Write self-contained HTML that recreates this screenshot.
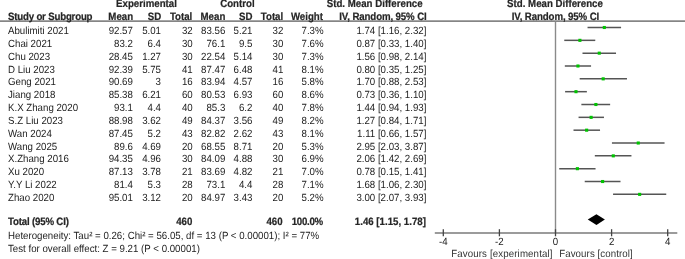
<!DOCTYPE html>
<html><head><meta charset="utf-8"><style>
html,body{margin:0;padding:0;background:#fff;}
body{width:685px;height:259px;position:relative;overflow:hidden;font-family:"Liberation Sans",sans-serif;color:#000;}
.t{position:absolute;white-space:nowrap;text-rendering:geometricPrecision;transform-origin:0 7px;}
.r{font-size:9.7px;line-height:9.7px;color:#222;transform:scaleY(1.07);}
.b{font-size:9.7px;line-height:9.7px;font-weight:bold;color:#262626;-webkit-text-stroke:0.2px #262626;letter-spacing:0.0px;transform:scaleY(1.1);}
svg{position:absolute;left:0;top:0;}
#tx{position:absolute;left:0;top:0;width:685px;height:259px;will-change:transform;}
</style></head><body>
<svg width="685" height="259" viewBox="0 0 685 259"><line x1="587.54" y1="27.50" x2="621.08" y2="27.50" stroke="#555" stroke-width="1.5"/><rect x="602.76" y="25.95" width="3.1" height="3.1" fill="#00c400"/><line x1="564.26" y1="40.34" x2="595.27" y2="40.34" stroke="#555" stroke-width="1.5"/><rect x="578.35" y="38.79" width="3.1" height="3.1" fill="#00c400"/><line x1="582.49" y1="53.17" x2="616.03" y2="53.17" stroke="#555" stroke-width="1.5"/><rect x="597.71" y="51.62" width="3.1" height="3.1" fill="#00c400"/><line x1="564.82" y1="66.00" x2="591.06" y2="66.00" stroke="#555" stroke-width="1.5"/><rect x="576.39" y="64.45" width="3.1" height="3.1" fill="#00c400"/><line x1="579.68" y1="78.84" x2="626.97" y2="78.84" stroke="#555" stroke-width="1.5"/><rect x="601.63" y="77.29" width="3.1" height="3.1" fill="#00c400"/><line x1="565.10" y1="91.68" x2="586.86" y2="91.68" stroke="#555" stroke-width="1.5"/><rect x="574.43" y="90.13" width="3.1" height="3.1" fill="#00c400"/><line x1="581.37" y1="104.51" x2="610.14" y2="104.51" stroke="#555" stroke-width="1.5"/><rect x="594.34" y="102.96" width="3.1" height="3.1" fill="#00c400"/><line x1="578.56" y1="117.34" x2="603.97" y2="117.34" stroke="#555" stroke-width="1.5"/><rect x="589.57" y="115.80" width="3.1" height="3.1" fill="#00c400"/><line x1="573.51" y1="130.18" x2="600.04" y2="130.18" stroke="#555" stroke-width="1.5"/><rect x="585.09" y="128.63" width="3.1" height="3.1" fill="#00c400"/><line x1="611.94" y1="143.02" x2="664.55" y2="143.02" stroke="#555" stroke-width="1.5"/><rect x="636.70" y="141.47" width="3.1" height="3.1" fill="#00c400"/><line x1="594.83" y1="155.85" x2="631.45" y2="155.85" stroke="#555" stroke-width="1.5"/><rect x="611.73" y="154.30" width="3.1" height="3.1" fill="#00c400"/><line x1="559.21" y1="168.69" x2="595.55" y2="168.69" stroke="#555" stroke-width="1.5"/><rect x="575.83" y="167.13" width="3.1" height="3.1" fill="#00c400"/><line x1="584.73" y1="181.52" x2="620.51" y2="181.52" stroke="#555" stroke-width="1.5"/><rect x="601.07" y="179.97" width="3.1" height="3.1" fill="#00c400"/><line x1="613.06" y1="194.36" x2="666.24" y2="194.36" stroke="#555" stroke-width="1.5"/><rect x="638.10" y="192.81" width="3.1" height="3.1" fill="#00c400"/><polygon points="587.76,219.6 596.45,214.2 604.87,219.6 596.45,225.0" fill="#000"/><rect x="0" y="20" width="685" height="1" fill="#a6a6a6"/><rect x="0" y="21" width="685" height="1" fill="#858585"/><line x1="555.5" y1="22" x2="555.5" y2="233" stroke="#8a8a8a" stroke-width="1.4"/><line x1="434.8" y1="233.0" x2="677.3" y2="233.0" stroke="#7a7a7a" stroke-width="1.6"/><line x1="443.30" y1="229.2" x2="443.30" y2="236.3" stroke="#444" stroke-width="1.3"/><line x1="499.40" y1="229.2" x2="499.40" y2="236.3" stroke="#444" stroke-width="1.3"/><line x1="555.50" y1="229.2" x2="555.50" y2="236.3" stroke="#444" stroke-width="1.3"/><line x1="611.60" y1="229.2" x2="611.60" y2="236.3" stroke="#444" stroke-width="1.3"/><line x1="667.70" y1="229.2" x2="667.70" y2="236.3" stroke="#444" stroke-width="1.3"/></svg>
<div id="tx">
<div class="t b" style="top:0px;left:46.50px;width:200px;text-align:center;">Experimental</div>
<div class="t b" style="top:0px;left:137.40px;width:200px;text-align:center;">Control</div>
<div class="t b" style="top:0px;left:274.70px;width:200px;text-align:center;">Std. Mean Difference</div>
<div class="t b" style="top:0px;left:455.00px;width:200px;text-align:center;">Std. Mean Difference</div>
<div class="t b" style="top:13px;letter-spacing:-0.2px;left:8.00px;">Study or Subgroup</div>
<div class="t b" style="top:13px;right:551.90px;text-align:right;">Mean</div>
<div class="t b" style="top:13px;right:523.70px;text-align:right;">SD</div>
<div class="t b" style="top:13px;right:492.70px;text-align:right;">Total</div>
<div class="t b" style="top:13px;right:459.70px;text-align:right;">Mean</div>
<div class="t b" style="top:13px;right:432.60px;text-align:right;">SD</div>
<div class="t b" style="top:13px;right:401.80px;text-align:right;">Total</div>
<div class="t b" style="top:13px;right:362.00px;text-align:right;">Weight</div>
<div class="t b" style="top:13px;letter-spacing:-0.12px;left:282.95px;width:200px;text-align:center;">IV, Random, 95% CI</div>
<div class="t b" style="top:13px;letter-spacing:-0.12px;left:455.40px;width:200px;text-align:center;">IV, Random, 95% CI</div>
<div class="t r" style="top:27px;left:8.00px;">Abulimiti 2021</div>
<div class="t r" style="top:27px;right:552.10px;text-align:right;">92.57</div>
<div class="t r" style="top:27px;right:524.00px;text-align:right;">5.01</div>
<div class="t r" style="top:27px;right:492.30px;text-align:right;">32</div>
<div class="t r" style="top:27px;right:459.70px;text-align:right;">83.56</div>
<div class="t r" style="top:27px;right:432.60px;text-align:right;">5.21</div>
<div class="t r" style="top:27px;right:401.70px;text-align:right;">32</div>
<div class="t r" style="top:27px;right:361.40px;text-align:right;">7.3%</div>
<div class="t r" style="top:27px;right:258.60px;text-align:right;">1.74 [1.16, 2.32]</div>
<div class="t r" style="top:40px;left:8.00px;">Chai 2021</div>
<div class="t r" style="top:40px;right:552.10px;text-align:right;">83.2</div>
<div class="t r" style="top:40px;right:524.00px;text-align:right;">6.4</div>
<div class="t r" style="top:40px;right:492.30px;text-align:right;">30</div>
<div class="t r" style="top:40px;right:459.70px;text-align:right;">76.1</div>
<div class="t r" style="top:40px;right:432.60px;text-align:right;">9.5</div>
<div class="t r" style="top:40px;right:401.70px;text-align:right;">30</div>
<div class="t r" style="top:40px;right:361.40px;text-align:right;">7.6%</div>
<div class="t r" style="top:40px;right:258.60px;text-align:right;">0.87 [0.33, 1.40]</div>
<div class="t r" style="top:53px;left:8.00px;">Chu 2023</div>
<div class="t r" style="top:53px;right:552.10px;text-align:right;">28.45</div>
<div class="t r" style="top:53px;right:524.00px;text-align:right;">1.27</div>
<div class="t r" style="top:53px;right:492.30px;text-align:right;">30</div>
<div class="t r" style="top:53px;right:459.70px;text-align:right;">22.54</div>
<div class="t r" style="top:53px;right:432.60px;text-align:right;">5.14</div>
<div class="t r" style="top:53px;right:401.70px;text-align:right;">30</div>
<div class="t r" style="top:53px;right:361.40px;text-align:right;">7.3%</div>
<div class="t r" style="top:53px;right:258.60px;text-align:right;">1.56 [0.98, 2.14]</div>
<div class="t r" style="top:66px;left:8.00px;">D Liu 2023</div>
<div class="t r" style="top:66px;right:552.10px;text-align:right;">92.39</div>
<div class="t r" style="top:66px;right:524.00px;text-align:right;">5.75</div>
<div class="t r" style="top:66px;right:492.30px;text-align:right;">41</div>
<div class="t r" style="top:66px;right:459.70px;text-align:right;">87.47</div>
<div class="t r" style="top:66px;right:432.60px;text-align:right;">6.48</div>
<div class="t r" style="top:66px;right:401.70px;text-align:right;">41</div>
<div class="t r" style="top:66px;right:361.40px;text-align:right;">8.1%</div>
<div class="t r" style="top:66px;right:258.60px;text-align:right;">0.80 [0.35, 1.25]</div>
<div class="t r" style="top:78px;left:8.00px;">Geng 2021</div>
<div class="t r" style="top:78px;right:552.10px;text-align:right;">90.69</div>
<div class="t r" style="top:78px;right:524.00px;text-align:right;">3</div>
<div class="t r" style="top:78px;right:492.30px;text-align:right;">16</div>
<div class="t r" style="top:78px;right:459.70px;text-align:right;">83.94</div>
<div class="t r" style="top:78px;right:432.60px;text-align:right;">4.57</div>
<div class="t r" style="top:78px;right:401.70px;text-align:right;">16</div>
<div class="t r" style="top:78px;right:361.40px;text-align:right;">5.8%</div>
<div class="t r" style="top:78px;right:258.60px;text-align:right;">1.70 [0.88, 2.53]</div>
<div class="t r" style="top:91px;left:8.00px;">Jiang 2018</div>
<div class="t r" style="top:91px;right:552.10px;text-align:right;">85.38</div>
<div class="t r" style="top:91px;right:524.00px;text-align:right;">6.21</div>
<div class="t r" style="top:91px;right:492.30px;text-align:right;">60</div>
<div class="t r" style="top:91px;right:459.70px;text-align:right;">80.53</div>
<div class="t r" style="top:91px;right:432.60px;text-align:right;">6.93</div>
<div class="t r" style="top:91px;right:401.70px;text-align:right;">60</div>
<div class="t r" style="top:91px;right:361.40px;text-align:right;">8.6%</div>
<div class="t r" style="top:91px;right:258.60px;text-align:right;">0.73 [0.36, 1.10]</div>
<div class="t r" style="top:104px;left:8.00px;">K.X Zhang 2020</div>
<div class="t r" style="top:104px;right:552.10px;text-align:right;">93.1</div>
<div class="t r" style="top:104px;right:524.00px;text-align:right;">4.4</div>
<div class="t r" style="top:104px;right:492.30px;text-align:right;">40</div>
<div class="t r" style="top:104px;right:459.70px;text-align:right;">85.3</div>
<div class="t r" style="top:104px;right:432.60px;text-align:right;">6.2</div>
<div class="t r" style="top:104px;right:401.70px;text-align:right;">40</div>
<div class="t r" style="top:104px;right:361.40px;text-align:right;">7.8%</div>
<div class="t r" style="top:104px;right:258.60px;text-align:right;">1.44 [0.94, 1.93]</div>
<div class="t r" style="top:117px;left:8.00px;">S.Z Liu 2023</div>
<div class="t r" style="top:117px;right:552.10px;text-align:right;">88.98</div>
<div class="t r" style="top:117px;right:524.00px;text-align:right;">3.62</div>
<div class="t r" style="top:117px;right:492.30px;text-align:right;">49</div>
<div class="t r" style="top:117px;right:459.70px;text-align:right;">84.37</div>
<div class="t r" style="top:117px;right:432.60px;text-align:right;">3.56</div>
<div class="t r" style="top:117px;right:401.70px;text-align:right;">49</div>
<div class="t r" style="top:117px;right:361.40px;text-align:right;">8.2%</div>
<div class="t r" style="top:117px;right:258.60px;text-align:right;">1.27 [0.84, 1.71]</div>
<div class="t r" style="top:130px;left:8.00px;">Wan 2024</div>
<div class="t r" style="top:130px;right:552.10px;text-align:right;">87.45</div>
<div class="t r" style="top:130px;right:524.00px;text-align:right;">5.2</div>
<div class="t r" style="top:130px;right:492.30px;text-align:right;">43</div>
<div class="t r" style="top:130px;right:459.70px;text-align:right;">82.82</div>
<div class="t r" style="top:130px;right:432.60px;text-align:right;">2.62</div>
<div class="t r" style="top:130px;right:401.70px;text-align:right;">43</div>
<div class="t r" style="top:130px;right:361.40px;text-align:right;">8.1%</div>
<div class="t r" style="top:130px;right:258.60px;text-align:right;">1.11 [0.66, 1.57]</div>
<div class="t r" style="top:143px;left:8.00px;">Wang 2025</div>
<div class="t r" style="top:143px;right:552.10px;text-align:right;">89.6</div>
<div class="t r" style="top:143px;right:524.00px;text-align:right;">4.69</div>
<div class="t r" style="top:143px;right:492.30px;text-align:right;">20</div>
<div class="t r" style="top:143px;right:459.70px;text-align:right;">68.55</div>
<div class="t r" style="top:143px;right:432.60px;text-align:right;">8.71</div>
<div class="t r" style="top:143px;right:401.70px;text-align:right;">20</div>
<div class="t r" style="top:143px;right:361.40px;text-align:right;">5.3%</div>
<div class="t r" style="top:143px;right:258.60px;text-align:right;">2.95 [2.03, 3.87]</div>
<div class="t r" style="top:155px;left:8.00px;">X.Zhang 2016</div>
<div class="t r" style="top:155px;right:552.10px;text-align:right;">94.35</div>
<div class="t r" style="top:155px;right:524.00px;text-align:right;">4.96</div>
<div class="t r" style="top:155px;right:492.30px;text-align:right;">30</div>
<div class="t r" style="top:155px;right:459.70px;text-align:right;">84.09</div>
<div class="t r" style="top:155px;right:432.60px;text-align:right;">4.88</div>
<div class="t r" style="top:155px;right:401.70px;text-align:right;">30</div>
<div class="t r" style="top:155px;right:361.40px;text-align:right;">6.9%</div>
<div class="t r" style="top:155px;right:258.60px;text-align:right;">2.06 [1.42, 2.69]</div>
<div class="t r" style="top:168px;left:8.00px;">Xu 2020</div>
<div class="t r" style="top:168px;right:552.10px;text-align:right;">87.13</div>
<div class="t r" style="top:168px;right:524.00px;text-align:right;">3.78</div>
<div class="t r" style="top:168px;right:492.30px;text-align:right;">21</div>
<div class="t r" style="top:168px;right:459.70px;text-align:right;">83.69</div>
<div class="t r" style="top:168px;right:432.60px;text-align:right;">4.82</div>
<div class="t r" style="top:168px;right:401.70px;text-align:right;">21</div>
<div class="t r" style="top:168px;right:361.40px;text-align:right;">7.0%</div>
<div class="t r" style="top:168px;right:258.60px;text-align:right;">0.78 [0.15, 1.41]</div>
<div class="t r" style="top:181px;left:8.00px;">Y.Y Li 2022</div>
<div class="t r" style="top:181px;right:552.10px;text-align:right;">81.4</div>
<div class="t r" style="top:181px;right:524.00px;text-align:right;">5.3</div>
<div class="t r" style="top:181px;right:492.30px;text-align:right;">28</div>
<div class="t r" style="top:181px;right:459.70px;text-align:right;">73.1</div>
<div class="t r" style="top:181px;right:432.60px;text-align:right;">4.4</div>
<div class="t r" style="top:181px;right:401.70px;text-align:right;">28</div>
<div class="t r" style="top:181px;right:361.40px;text-align:right;">7.1%</div>
<div class="t r" style="top:181px;right:258.60px;text-align:right;">1.68 [1.06, 2.30]</div>
<div class="t r" style="top:194px;left:8.00px;">Zhao 2020</div>
<div class="t r" style="top:194px;right:552.10px;text-align:right;">95.01</div>
<div class="t r" style="top:194px;right:524.00px;text-align:right;">3.12</div>
<div class="t r" style="top:194px;right:492.30px;text-align:right;">20</div>
<div class="t r" style="top:194px;right:459.70px;text-align:right;">84.97</div>
<div class="t r" style="top:194px;right:432.60px;text-align:right;">3.43</div>
<div class="t r" style="top:194px;right:401.70px;text-align:right;">20</div>
<div class="t r" style="top:194px;right:361.40px;text-align:right;">5.2%</div>
<div class="t r" style="top:194px;right:258.60px;text-align:right;">3.00 [2.07, 3.93]</div>
<div class="t b" style="top:218px;letter-spacing:-0.19px;left:8.00px;">Total (95% CI)</div>
<div class="t b" style="top:218px;right:492.70px;text-align:right;">460</div>
<div class="t b" style="top:218px;right:402.40px;text-align:right;">460</div>
<div class="t b" style="top:218px;letter-spacing:-0.3px;right:362.20px;text-align:right;">100.0%</div>
<div class="t b" style="top:218px;right:259.10px;text-align:right;">1.46 [1.15, 1.78]</div>
<div class="t r" style="top:232px;left:8.00px;">Heterogeneity: Tau² = 0.26; Chi² = 56.05, df = 13 (P &lt; 0.00001); I² = 77%</div>
<div class="t r" style="top:245px;left:8.00px;">Test for overall effect: Z = 9.21 (P &lt; 0.00001)</div>
<div class="t r" style="top:238px;left:343.30px;width:200px;text-align:center;">-4</div>
<div class="t r" style="top:238px;left:399.40px;width:200px;text-align:center;">-2</div>
<div class="t r" style="top:238px;left:455.50px;width:200px;text-align:center;">0</div>
<div class="t r" style="top:238px;left:511.60px;width:200px;text-align:center;">2</div>
<div class="t r" style="top:238px;left:567.70px;width:200px;text-align:center;">4</div>
<div class="t r" style="top:250px;color:#333;left:451.20px;letter-spacing:0.13px;">Favours [experimental]</div>
<div class="t r" style="top:250px;color:#333;left:559.20px;letter-spacing:0.09px;">Favours [control]</div>
</div>
</body></html>
